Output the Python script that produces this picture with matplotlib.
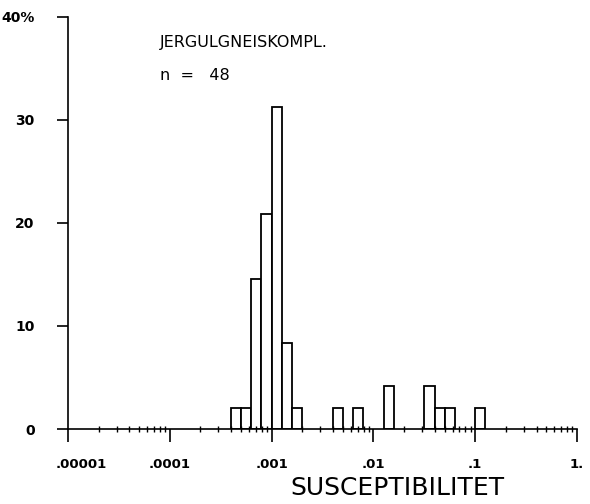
#   histogram der suszeptibilitaet, jergulgneiskomplex
import numpy as np
import matplotlib
matplotlib.use('Agg')
from matplotlib import pyplot as plt
from matplotlib.ticker import FixedLocator, LogLocator, NullFormatter
from matplotlib.transforms import ScaledTranslation

#   klassen (log10 der linken kante, breite 0.1 dekade) und anzahl proben
bin_left_log = [-3.4, -3.3, -3.2, -3.1, -3.0, -2.9, -2.8, -2.4, -2.2, -1.9, -1.5, -1.4, -1.3, -1.0]
counts = [1, 1, 7, 10, 15, 4, 1, 1, 1, 2, 2, 1, 1, 1]
bin_width_log = 0.1
n_total = 48

x_ticks = [1e-5, 1e-4, 1e-3, 1e-2, 1e-1, 1.0]
x_tick_labels = ['.00001', '.0001', '.001', '.01', '.1', '1.']
y_ticks = [0, 10, 20, 30, 40]
y_tick_labels = ['0', '10', '20', '30', '40%']

#   prozent und kanten berechnen
percent = np.array(counts) / n_total * 100
left = 10 ** np.array(bin_left_log)
right = 10 ** (np.array(bin_left_log) + bin_width_log)

fig = plt.figure(figsize=(5.9, 5.04), dpi=100)
ax = fig.add_axes([0.1153, 0.1488, 0.8627, 0.8175])

ax.bar(left, percent, width=right - left, align='edge', color='white',
       edgecolor='black', linewidth=1.3)

ax.set_xscale('log')
ax.set_xlim(1e-5, 1.0)
ax.set_ylim(0, 40)

ax.spines['top'].set_visible(False)
ax.spines['right'].set_visible(False)
ax.spines['left'].set_linewidth(1.2)
ax.spines['bottom'].set_linewidth(1.2)

ax.xaxis.set_major_locator(FixedLocator(x_ticks))
ax.set_xticklabels(x_tick_labels, fontsize=9.5, fontweight='bold')
ax.xaxis.set_minor_locator(LogLocator(base=10, subs=np.arange(2, 10)))
ax.xaxis.set_minor_formatter(NullFormatter())
ax.tick_params(axis='x', which='major', direction='out', length=9, width=1.2, pad=12)
ax.tick_params(axis='x', which='minor', direction='inout', length=4, width=1.0)

#   erste beschriftung etwas nach rechts, wie im original
first = ax.get_xticklabels()[0]
first.set_transform(first.get_transform() + ScaledTranslation(0.13, 0, fig.dpi_scale_trans))

ax.set_yticks(y_ticks)
ax.set_yticklabels(y_tick_labels, fontsize=10, fontweight='bold')
ax.tick_params(axis='y', direction='out', length=8, width=1.2, pad=16)

ax.text(0.181, 0.939, 'JERGULGNEISKOMPL.', transform=ax.transAxes, fontsize=11.5, va='center')
ax.text(0.181, 0.857, 'n  =   48', transform=ax.transAxes, fontsize=11.5, va='center')

fig.text(0.673, 0.032, 'SUSCEPTIBILITET', ha='center', va='center', fontsize=18)

plt.savefig('out.png', dpi=100)
